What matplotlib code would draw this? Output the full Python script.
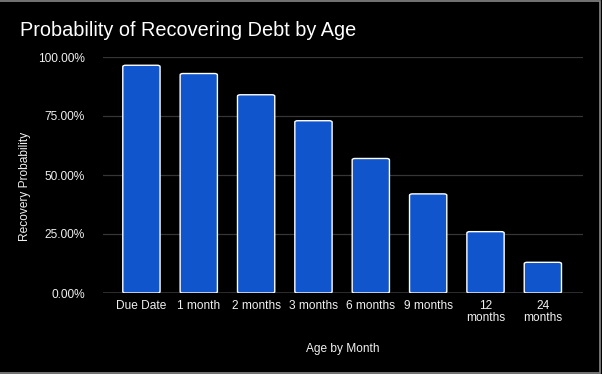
import matplotlib.pyplot as plt
from matplotlib.patches import FancyBboxPatch, Rectangle
from matplotlib.ticker import FuncFormatter

plt.rcParams['font.family'] = ['Liberation Sans', 'DejaVu Sans']

ages = ['Due Date', '1 month', '2 months', '3 months', '6 months', '9 months',
        '12\nmonths', '24\nmonths']
recovery = [96.5, 93.0, 84.0, 73.0, 57.0, 42.0, 26.0, 13.0]

fig = plt.figure(figsize=(6.02, 3.74), dpi=100, facecolor='black')
ax = fig.add_axes([103 / 602, 1 - 293 / 374, 480 / 602, 236 / 374])
ax.set_facecolor('black')

bars = ax.bar(range(len(ages)), recovery, width=0.65, color='#1155cc',
              edgecolor='white', linewidth=1.0, zorder=3)
# swap square bars for slightly rounded ones
for b in bars:
    b.set_visible(False)
    ax.add_patch(FancyBboxPatch((b.get_x(), 0), b.get_width(), b.get_height(),
                                boxstyle='round,pad=0,rounding_size=0.05',
                                mutation_aspect=12,
                                facecolor='#1155cc', edgecolor='white',
                                linewidth=1.0, zorder=3))

ax.set_xlim(-0.67, 7.7)
ax.set_ylim(0, 100)
ax.set_yticks([0, 25, 50, 75, 100])
ax.yaxis.set_major_formatter(FuncFormatter(lambda v, p: f'{v:.2f}%'))
ax.set_xticks(range(len(ages)))
ax.set_xticklabels(ages, linespacing=1.0)
ax.grid(axis='y', color='#363636', linewidth=0.9, zorder=0)
ax.axhline(0, color='#cccccc', linewidth=1.0, zorder=4)

for s in ax.spines.values():
    s.set_visible(False)
ax.tick_params(axis='both', length=0, colors='#f0f0f0', labelsize=8.6)
ax.tick_params(axis='y', pad=13)
ax.tick_params(axis='x', pad=5)

ax.set_xlabel('Age by Month', color='#f0f0f0', fontsize=8.6, labelpad=14)
ax.set_ylabel('Recovery Probability', color='#f0f0f0', fontsize=8.6)
ax.yaxis.set_label_coords(-0.15, 0.45)

fig.text(20 / 602, 1 - 30 / 374, 'Probability of Recovering Debt by Age',
         color='white', fontsize=14.3, va='center', ha='left')

# thin grey frame seen at the image edges
fig.patches.append(Rectangle((-0.01, 1 / 374), 600 / 602 + 0.01, 372 / 374,
                             transform=fig.transFigure,
                             fill=False, edgecolor='#888888', linewidth=1.2))

fig.savefig('out.png', dpi=100, facecolor='black')
